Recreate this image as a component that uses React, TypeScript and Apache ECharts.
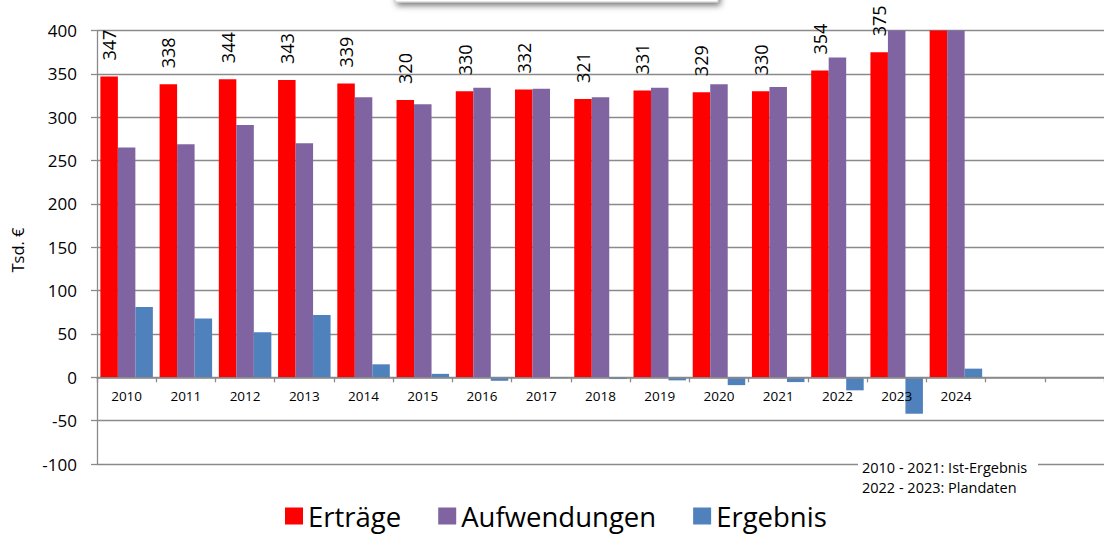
import React, { useEffect, useRef } from "react";
import * as echarts from "echarts";

const years = ["2010", "2011", "2012", "2013", "2014", "2015", "2016", "2017", "2018", "2019", "2020", "2021", "2022", "2023", "2024", "", ""];
const ertraege = [347, 338, 344, 343, 339, 320, 330, 332, 321, 331, 329, 330, 354, 375, 420, null, null];
const aufwendungen = [265, 269, 291, 270, 323, 315, 334, 333, 323, 334, 338, 335, 369, 417, 410, null, null];
const ergebnis = [81, 68, 52, 72, 15, 4, -4, -1, -2, -3.5, -9, -5.5, -15, -42, 10, null, null];
const yTicks = { min: -100, max: 400, interval: 50 };
const seriesNames = ["Erträge", "Aufwendungen", "Ergebnis"];
const colors = ["#FF0000", "#8064A2", "#4F81BD"];
const notes = ["2010 - 2021: Ist-Ergebnis", "2022 - 2023: Plandaten"];
const yName = "Tsd. €";

const FONT = "'Open Sans', 'Noto Sans', sans-serif";
const GRID = "#8a8a8a";
const GRID_TOP = 30.6;
const GRID_BOTTOM = 71;
const HEIGHT = 535;

export default function App() {
  const ref = useRef<HTMLDivElement>(null);
  useEffect(() => {
    if (!ref.current) return;
    const chart = echarts.init(ref.current, undefined, { renderer: "svg" });
    const plotH = HEIGHT - GRID_TOP - GRID_BOTTOM;
    const zeroOffset = -(plotH * (0 - yTicks.min)) / (yTicks.max - yTicks.min);
    const labelData = ertraege.map((v) =>
      v !== null && v > yTicks.max ? { value: v, label: { show: false } } : v
    );
    chart.setOption({
      animation: false,
      backgroundColor: "#ffffff",
      textStyle: { fontFamily: FONT },
      grid: { left: 97, right: 0, top: GRID_TOP, bottom: GRID_BOTTOM, containLabel: false },
      legend: {
        data: seriesNames,
        left: 285,
        top: 501,
        padding: 0,
        icon: "rect",
        itemWidth: 18,
        itemHeight: 17,
        itemGap: 37,
        textStyle: { fontSize: 27.5, lineHeight: 30, color: "#000", fontFamily: FONT },
      },
      xAxis: {
        type: "category",
        data: years,
        offset: zeroOffset,
        z: 5,
        axisLine: { onZero: false, lineStyle: { color: GRID, width: 1.5 } },
        axisTick: { show: true, length: 5, lineStyle: { color: GRID, width: 1.3 } },
        axisLabel: { color: "#000", fontSize: 13.5, margin: 12, fontFamily: FONT, interval: 0 },
      },
      yAxis: {
        type: "value",
        min: yTicks.min,
        max: yTicks.max,
        interval: yTicks.interval,
        axisLine: { show: true, lineStyle: { color: GRID, width: 1.3 } },
        axisTick: { show: true, length: 6, lineStyle: { color: GRID, width: 1.3 } },
        axisLabel: { color: "#000", fontSize: 17, margin: 20, fontFamily: FONT },
        splitLine: { show: true, lineStyle: { color: GRID, width: 1.3 } },
      },
      series: [
        {
          name: seriesNames[0],
          type: "bar",
          data: labelData,
          barWidth: 17.5,
          barGap: "0%",
          itemStyle: { color: colors[0] },
          label: {
            show: true,
            position: "top",
            rotate: 90,
            align: "left",
            verticalAlign: "middle",
            distance: 16,
            fontSize: 18,
            color: "#000",
            fontFamily: FONT,
          },
        },
        {
          name: seriesNames[1],
          type: "bar",
          data: aufwendungen,
          barWidth: 17.5,
          barGap: "0%",
          itemStyle: { color: colors[1] },
        },
        {
          name: seriesNames[2],
          type: "bar",
          data: ergebnis,
          barWidth: 17.5,
          barGap: "0%",
          itemStyle: { color: colors[2] },
        },
      ],
      graphic: [
        {
          type: "rect",
          shape: { x: 395, y: -30, width: 323, height: 32 },
          style: {
            fill: "#ffffff",
            stroke: "#c8c8c8",
            lineWidth: 1,
            shadowBlur: 6,
            shadowOffsetX: 2,
            shadowOffsetY: 3,
            shadowColor: "rgba(0,0,0,0.55)",
          },
          z: 100,
        },
        {
          type: "text",
          x: 17,
          y: 250,
          rotation: Math.PI / 2,
          style: {
            text: yName,
            fontSize: 16.5,
            fontFamily: FONT,
            fill: "#000",
            textAlign: "center",
            textVerticalAlign: "middle",
          },
        },
        {
          type: "rect",
          shape: { x: 858, y: 458, width: 180, height: 40 },
          style: { fill: "#ffffff" },
          z: 100,
        },
        {
          type: "text",
          x: 862,
          y: 467,
          z: 101,
          style: {
            text: notes[0],
            fontSize: 14.5,
            fontFamily: FONT,
            fill: "#000",
            textAlign: "left",
            textVerticalAlign: "middle",
          },
        },
        {
          type: "text",
          x: 862,
          y: 487,
          z: 101,
          style: {
            text: notes[1],
            fontSize: 14.5,
            fontFamily: FONT,
            fill: "#000",
            textAlign: "left",
            textVerticalAlign: "middle",
          },
        },
      ],
    });
    return () => chart.dispose();
  }, []);
  return (
    <div
      ref={ref}
      style={{ position: "absolute", left: 0, top: 0, width: 1104, height: 535 }}
    />
  );
}
